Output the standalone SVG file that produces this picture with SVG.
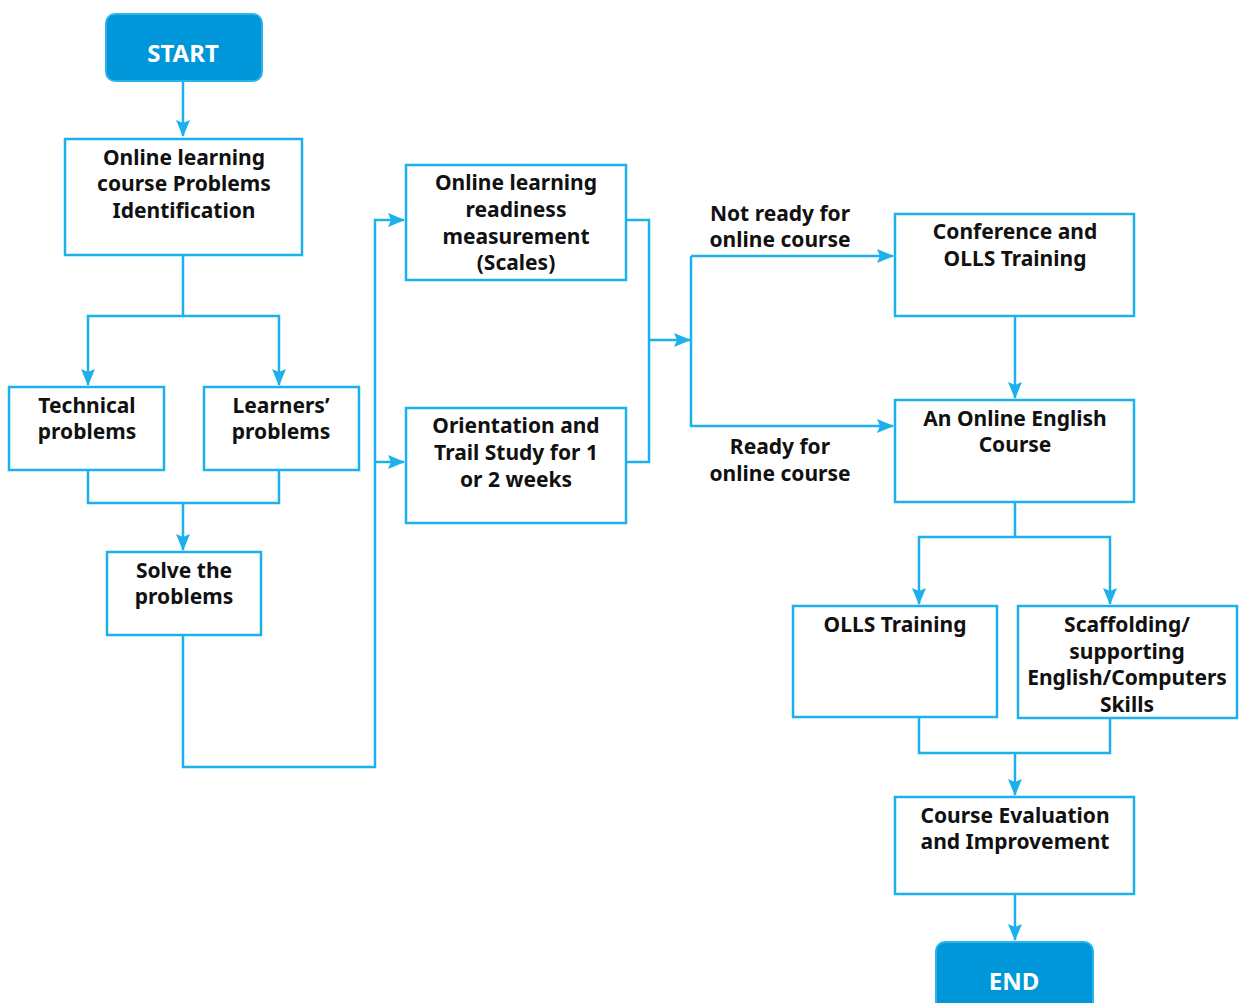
<svg xmlns="http://www.w3.org/2000/svg" width="1240" height="1003" viewBox="0 0 1240 1003">
<style>
.box{fill:#fff;stroke:#1db1ec;stroke-width:2.5}
.term{fill:#0097da;stroke:#2ab4ee;stroke-width:2}
.t{font-family:"Noto Sans",sans-serif;font-weight:bold;font-size:21px;fill:#111;text-anchor:middle;dominant-baseline:central}
.tw{font-family:"Noto Sans",sans-serif;font-weight:bold;font-size:24px;fill:#fff;text-anchor:middle;dominant-baseline:central}
.c{fill:none;stroke:#1db1ec;stroke-width:2.5}
</style>
<defs>
<marker id="ah" markerUnits="userSpaceOnUse" markerWidth="17" markerHeight="14" refX="16" refY="7" orient="auto">
<path d="M0,0 L17,7 L0,14 L3,7 Z" fill="#1db1ec"/>
</marker>
</defs>
<g id="connectors">
<path class="c" d="M183,81 V136" marker-end="url(#ah)"/>
<path class="c" d="M183,255 V316 H88 V385" marker-end="url(#ah)"/>
<path class="c" d="M183,316 H279 V385" marker-end="url(#ah)"/>
<path class="c" d="M88,470 V503 H279 V470"/>
<path class="c" d="M183,503 V550" marker-end="url(#ah)"/>
<path class="c" d="M183,635 V767 H375 V220 H404" marker-end="url(#ah)"/>
<path class="c" d="M375,462 H404" marker-end="url(#ah)"/>
<path class="c" d="M626,220 H649 V462 H626"/>
<path class="c" d="M649,340 H690" marker-end="url(#ah)"/>
<path class="c" d="M691,256 V426 H893" marker-end="url(#ah)"/>
<path class="c" d="M691,256 H893" marker-end="url(#ah)"/>
<path class="c" d="M1015,316 V398" marker-end="url(#ah)"/>
<path class="c" d="M1015,502 V537 H919 V604" marker-end="url(#ah)"/>
<path class="c" d="M1015,537 H1110 V604" marker-end="url(#ah)"/>
<path class="c" d="M919,717 V753 H1110 V718"/>
<path class="c" d="M1015,753 V795" marker-end="url(#ah)"/>
<path class="c" d="M1015,894 V940" marker-end="url(#ah)"/>
<text class="t" x="780" y="213">Not ready for</text>
<text class="t" x="780" y="239">online course</text>
<text class="t" x="780" y="446">Ready for</text>
<text class="t" x="780" y="473">online course</text>
</g>
<g id="start">
<rect class="term" x="106" y="14" width="156" height="67" rx="9"/>
<text class="tw" x="183" y="52">START</text>
</g>
<g id="identification">
<rect class="box" x="65" y="139" width="237" height="116"/>
<text class="t" x="184" y="157">Online learning</text>
<text class="t" x="184" y="183">course Problems</text>
<text class="t" x="184" y="210">Identification</text>
</g>
<g id="technical">
<rect class="box" x="9" y="387" width="155" height="83"/>
<text class="t" x="87" y="405">Technical</text>
<text class="t" x="87" y="431">problems</text>
</g>
<g id="learners">
<rect class="box" x="204" y="387" width="155" height="83"/>
<text class="t" x="281" y="405">Learners’</text>
<text class="t" x="281" y="431">problems</text>
</g>
<g id="solve">
<rect class="box" x="107" y="552" width="154" height="83"/>
<text class="t" x="184" y="570">Solve the</text>
<text class="t" x="184" y="596">problems</text>
</g>
<g id="readiness">
<rect class="box" x="406" y="165" width="220" height="115"/>
<text class="t" x="516" y="182">Online learning</text>
<text class="t" x="516" y="209">readiness</text>
<text class="t" x="516" y="236">measurement</text>
<text class="t" x="516" y="262">(Scales)</text>
</g>
<g id="orientation">
<rect class="box" x="406" y="408" width="220" height="115"/>
<text class="t" x="516" y="425">Orientation and</text>
<text class="t" x="516" y="452">Trail Study for 1</text>
<text class="t" x="516" y="479">or 2 weeks</text>
</g>
<g id="conference">
<rect class="box" x="895" y="214" width="239" height="102"/>
<text class="t" x="1015" y="231">Conference and</text>
<text class="t" x="1015" y="258">OLLS Training</text>
</g>
<g id="english-course">
<rect class="box" x="895" y="400" width="239" height="102"/>
<text class="t" x="1015" y="418">An Online English</text>
<text class="t" x="1015" y="444">Course</text>
</g>
<g id="olls-training">
<rect class="box" x="793" y="606" width="204" height="111"/>
<text class="t" x="895" y="624">OLLS Training</text>
</g>
<g id="scaffolding">
<rect class="box" x="1018" y="606" width="219" height="112"/>
<text class="t" x="1127" y="624">Scaffolding/</text>
<text class="t" x="1127" y="651">supporting</text>
<text class="t" x="1127" y="677">English/Computers</text>
<text class="t" x="1127" y="704">Skills</text>
</g>
<g id="evaluation">
<rect class="box" x="895" y="797" width="239" height="97"/>
<text class="t" x="1015" y="815">Course Evaluation</text>
<text class="t" x="1015" y="841">and Improvement</text>
</g>
<g id="end">
<rect class="term" x="936" y="942" width="157" height="75" rx="9"/>
<text class="tw" x="1014" y="980">END</text>
</g>
</svg>
